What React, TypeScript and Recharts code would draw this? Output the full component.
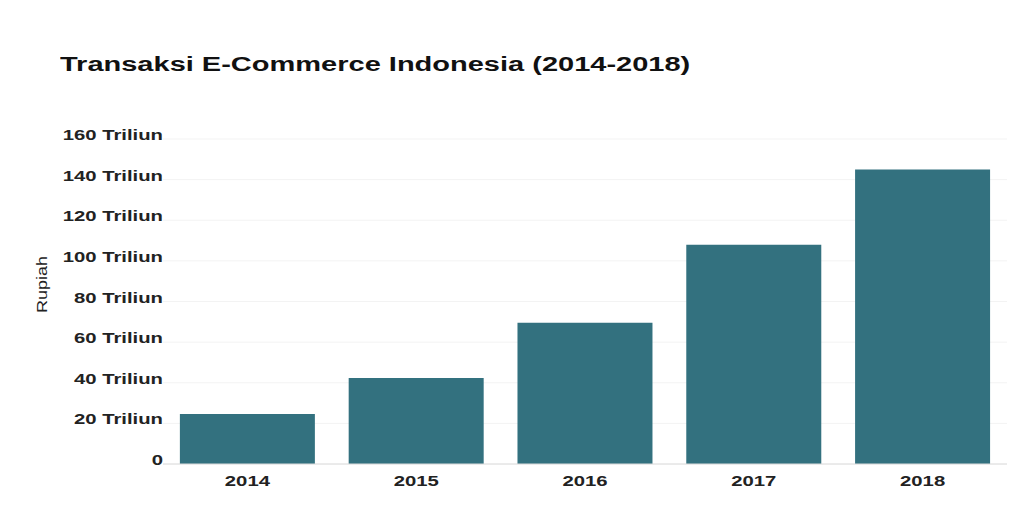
import React from 'react';
import { BarChart, Bar, XAxis, YAxis, CartesianGrid } from 'recharts';

const years = ['2014', '2015', '2016', '2017', '2018'];
const transaksi = [24.6, 42.4, 69.5, 108, 145];
const yTicks = [0, 20, 40, 60, 80, 100, 120, 140, 160];

const chartData = years.map((year, i) => ({ year, value: transaksi[i] }));

const FONT = '"Liberation Sans", Arial, sans-serif';
const STRETCH = 1.45;

const YTick = ({ x, y, payload }: any) => {
  const label = payload.value === 0 ? '0' : `${payload.value} Triliun`;
  return (
    <g transform={`translate(${x + 8},${y + 1}) scale(${STRETCH},1)`}>
      <text x={0} y={0} textAnchor="end" fontFamily={FONT} fontWeight="bold" fontSize={14} fill="#222">
        {label}
      </text>
    </g>
  );
};

const XTick = ({ x, y, payload }: any) => (
  <g transform={`translate(${x},${y + 14}) scale(${STRETCH},1)`}>
    <text x={0} y={0} textAnchor="middle" fontFamily={FONT} fontWeight="bold" fontSize={14} fill="#222">
      {payload.value}
    </text>
  </g>
);

const YLabel = ({ viewBox }: any) => {
  const cy = viewBox.y + viewBox.height / 2 - 17;
  return (
    <g transform={`translate(47,${cy}) rotate(-90) scale(1.2,1)`}>
      <text x={0} y={0} textAnchor="middle" fontFamily={FONT} fontSize={15} fill="#222">
        Rupiah
      </text>
    </g>
  );
};

export default function App() {
  return (
    <div style={{ position: 'absolute', left: 0, top: 0, width: 1011, height: 512, background: '#fff' }}>
      <div
        style={{
          position: 'absolute',
          left: 60,
          top: 54,
          fontFamily: FONT,
          fontWeight: 'bold',
          fontSize: 20,
          lineHeight: '20px',
          color: '#111',
          whiteSpace: 'nowrap',
          transform: 'scale(1.45,1)',
          transformOrigin: 'left center',
        }}
      >
        Transaksi E-Commerce Indonesia (2014-2018)
      </div>
      <BarChart
        width={1011}
        height={512}
        data={chartData}
        margin={{ top: 139, right: 4, left: 0, bottom: 18 }}
        barCategoryGap="10%"
      >
        <CartesianGrid vertical={false} stroke="#f3f3f3" />
        <XAxis
          dataKey="year"
          height={30}
          tickLine={false}
          axisLine={{ stroke: '#dcdcdc' }}
          tick={<XTick />}
        />
        <YAxis
          width={163}
          domain={[0, 160]}
          ticks={yTicks}
          tickLine={false}
          axisLine={false}
          tick={<YTick />}
          label={<YLabel />}
        />
        <Bar dataKey="value" fill="#33717f" isAnimationActive={false} />
      </BarChart>
    </div>
  );
}
